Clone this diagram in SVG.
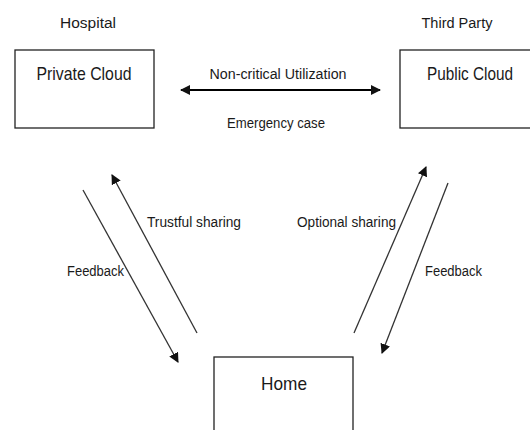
<svg xmlns="http://www.w3.org/2000/svg" width="530" height="430" viewBox="0 0 530 430">
<style>
text{font-family:"Liberation Sans",Arial,sans-serif;fill:#1a1a1a}
.lbl{font-size:15.5px}
.nd{font-size:19px}
.box{fill:#fff;stroke:#222;stroke-width:1.3}
.ln{stroke:#333;stroke-width:1.3;fill:none}
.hl{stroke:#000;stroke-width:2;fill:none}
</style>
<defs>
<marker id="ah" viewBox="0 0 10 10" refX="9" refY="5" markerWidth="10" markerHeight="10" markerUnits="userSpaceOnUse" orient="auto-start-reverse">
<path d="M0,0 L10,5 L0,10 Z" fill="#111"/>
</marker>
</defs>
<rect width="530" height="430" fill="#fff"/>
<g id="private-cloud">
<rect class="box" x="15" y="50" width="139" height="78"/>
<text class="nd" x="84" y="80" text-anchor="middle" textLength="95" lengthAdjust="spacingAndGlyphs">Private Cloud</text>
</g>
<g id="public-cloud">
<rect class="box" x="400" y="50" width="140" height="78"/>
<text class="nd" x="470" y="80" text-anchor="middle" textLength="86" lengthAdjust="spacingAndGlyphs">Public Cloud</text>
</g>
<g id="home">
<rect class="box" x="214" y="357" width="139" height="90"/>
<text class="nd" x="284" y="390" text-anchor="middle" textLength="46" lengthAdjust="spacingAndGlyphs">Home</text>
</g>
<g id="labels">
<text class="lbl" x="88" y="28" text-anchor="middle" textLength="56" lengthAdjust="spacingAndGlyphs">Hospital</text>
<text class="lbl" x="457" y="28" text-anchor="middle" textLength="71" lengthAdjust="spacingAndGlyphs">Third Party</text>
</g>
<g id="connectors">
<line class="hl" x1="181" y1="90" x2="380" y2="90" marker-start="url(#ah)" marker-end="url(#ah)"/>
<text class="lbl" x="278" y="79" text-anchor="middle" textLength="137" lengthAdjust="spacingAndGlyphs">Non-critical Utilization</text>
<text class="lbl" x="276" y="128" text-anchor="middle" textLength="98" lengthAdjust="spacingAndGlyphs">Emergency case</text>
<line class="ln" x1="83" y1="190" x2="178" y2="362" marker-end="url(#ah)"/>
<line class="ln" x1="197" y1="333" x2="112" y2="175" marker-end="url(#ah)"/>
<text class="lbl" x="147" y="227" textLength="94" lengthAdjust="spacingAndGlyphs">Trustful sharing</text>
<text class="lbl" x="67" y="276" textLength="57" lengthAdjust="spacingAndGlyphs">Feedback</text>
<line class="ln" x1="354" y1="333" x2="426" y2="167" marker-end="url(#ah)"/>
<line class="ln" x1="448" y1="183" x2="382" y2="353" marker-end="url(#ah)"/>
<text class="lbl" x="297" y="227" textLength="99" lengthAdjust="spacingAndGlyphs">Optional sharing</text>
<text class="lbl" x="425" y="276" textLength="57" lengthAdjust="spacingAndGlyphs">Feedback</text>
</g>
</svg>
